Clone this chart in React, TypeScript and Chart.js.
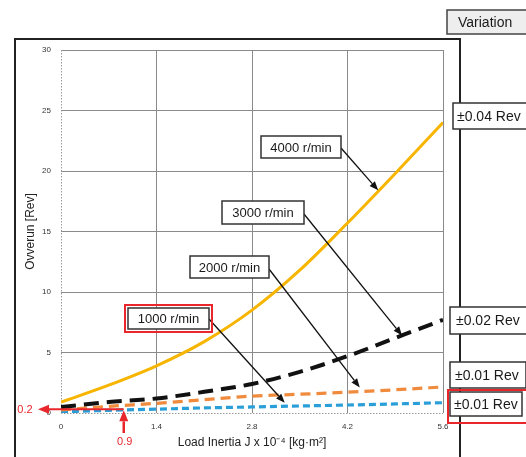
import React, { useEffect, useRef } from "react";
import { Chart, registerables } from "chart.js";

Chart.register(...registerables);

// ---------- data ----------
const xValues = [0, 0.7, 1.4, 2.1, 2.8, 3.5, 4.2, 4.9, 5.6];
const rpm4000 = [0.9, 2.3, 3.9, 5.9, 8.5, 11.8, 15.7, 19.8, 24.0];
const rpm3000 = [0.5, 0.9, 1.2, 1.75, 2.4, 3.4, 4.7, 6.2, 7.7];
const rpm2000 = [0.25, 0.55, 0.8, 1.1, 1.4, 1.55, 1.72, 1.92, 2.15];
const rpm1000 = [0.1, 0.22, 0.32, 0.42, 0.5, 0.58, 0.66, 0.75, 0.85];
const seriesNames = ["4000 r/min", "3000 r/min", "2000 r/min", "1000 r/min"];
const xTicks = [0, 1.4, 2.8, 4.2, 5.6];
const xTickLabels = ["0", "1.4", "2.8", "4.2", "5.6"];
const variations = ["±0.04 Rev", "±0.02 Rev", "±0.01 Rev", "±0.01 Rev"];
const markerX = 0.92;
const markerY = 0.3;
const markerXLabel = "0.9";
const markerYLabel = "0.2";
// arrow tips of the callouts, in data units
const calloutTips = [
  { x: 4.65, y: 18.4 },
  { x: 5.0, y: 6.4 },
  { x: 4.38, y: 2.1 },
  { x: 3.28, y: 0.85 },
];

const FONT = "'Liberation Sans', Arial, sans-serif";

function arrow(ctx: CanvasRenderingContext2D, x1: number, y1: number, x2: number, y2: number, color: string, lw: number, hl: number, hw: number) {
  const ang = Math.atan2(y2 - y1, x2 - x1);
  const bx = x2 - hl * Math.cos(ang);
  const by = y2 - hl * Math.sin(ang);
  ctx.save();
  ctx.strokeStyle = color;
  ctx.fillStyle = color;
  ctx.lineWidth = lw;
  ctx.setLineDash([]);
  ctx.beginPath();
  ctx.moveTo(x1, y1);
  ctx.lineTo(bx, by);
  ctx.stroke();
  ctx.beginPath();
  ctx.moveTo(x2, y2);
  ctx.lineTo(bx + (hw / 2) * Math.sin(ang), by - (hw / 2) * Math.cos(ang));
  ctx.lineTo(bx - (hw / 2) * Math.sin(ang), by + (hw / 2) * Math.cos(ang));
  ctx.closePath();
  ctx.fill();
  ctx.restore();
}

function box(ctx: CanvasRenderingContext2D, x: number, y: number, w: number, h: number, text: string, size: number, fill = "#fff", stroke = "#333", textX?: number) {
  ctx.save();
  ctx.fillStyle = fill;
  ctx.fillRect(x, y, w, h);
  ctx.strokeStyle = stroke;
  ctx.lineWidth = 1.5;
  ctx.strokeRect(x, y, w, h);
  ctx.fillStyle = "#1a1a1a";
  ctx.font = `${size}px ${FONT}`;
  ctx.textBaseline = "middle";
  if (textX !== undefined) {
    ctx.textAlign = "left";
    ctx.fillText(text, textX, y + h / 2 + 1);
  } else {
    ctx.textAlign = "center";
    ctx.fillText(text, x + w / 2, y + h / 2 + 1);
  }
  ctx.restore();
}

const decorPlugin = {
  id: "decor",
  beforeDraw(chart: any) {
    const ctx = chart.ctx as CanvasRenderingContext2D;
    ctx.save();
    ctx.fillStyle = "#fff";
    ctx.fillRect(0, 0, chart.width, chart.height);
    ctx.strokeStyle = "#222";
    ctx.lineWidth = 2;
    ctx.strokeRect(15, 39, 445, 440);
    ctx.restore();
  },
  beforeDatasetsDraw(chart: any) {
    const ctx = chart.ctx as CanvasRenderingContext2D;
    const a = chart.chartArea;
    ctx.save();
    ctx.strokeStyle = "#9a9a9a";
    ctx.lineWidth = 1;
    ctx.setLineDash([1.5, 1.5]);
    ctx.beginPath();
    ctx.moveTo(a.left + 0.5, a.top);
    ctx.lineTo(a.left + 0.5, a.bottom + 0.5);
    ctx.lineTo(a.right, a.bottom + 0.5);
    ctx.stroke();
    ctx.restore();
  },
  afterDraw(chart: any) {
    const ctx = chart.ctx as CanvasRenderingContext2D;
    const xs = chart.scales.x;
    const ys = chart.scales.y;

    // callouts
    const boxes = [
      { b: [261, 136, 80, 22], from: [341, 148] },
      { b: [222, 201, 82, 23], from: [304, 214] },
      { b: [190, 256, 79, 22], from: [269, 269] },
      { b: [128, 308, 81, 21], from: [209, 319] },
    ];
    boxes.forEach((c, i) => {
      const tip = calloutTips[i];
      arrow(ctx, c.from[0], c.from[1], xs.getPixelForValue(tip.x), ys.getPixelForValue(tip.y), "#111", 1.3, 9, 7);
    });
    boxes.forEach((c, i) => {
      box(ctx, c.b[0], c.b[1], c.b[2], c.b[3], seriesNames[i], 13);
    });
    // red frame around 1000 r/min
    ctx.save();
    ctx.strokeStyle = "#e8262c";
    ctx.lineWidth = 2;
    ctx.strokeRect(125, 305, 87, 27);
    ctx.restore();

    // red marker arrows
    const mx = xs.getPixelForValue(markerX);
    const my = ys.getPixelForValue(markerY);
    arrow(ctx, mx, my, 38, my, "#e8262c", 2, 11, 9);
    arrow(ctx, mx, 433, mx, my + 1, "#e8262c", 2.5, 11, 9);
    ctx.save();
    ctx.fillStyle = "#e8262c";
    ctx.font = `11px ${FONT}`;
    ctx.textAlign = "center";
    ctx.textBaseline = "middle";
    ctx.fillText(markerYLabel, 25, my + 1);
    ctx.fillText(markerXLabel, mx + 1, 442);
    ctx.restore();

    // right column
    ctx.save();
    ctx.strokeStyle = "#222";
    ctx.lineWidth = 2;
    ctx.beginPath();
    ctx.moveTo(460, 38);
    ctx.lineTo(460, 457);
    ctx.stroke();
    ctx.restore();
    box(ctx, 447, 10, 85, 24, "Variation", 14, "#eeeeee", "#444", 458);
    box(ctx, 453, 103, 80, 26, variations[0], 14, "#fff", "#333", 457);
    box(ctx, 450, 307, 82, 27, variations[1], 14, "#fff", "#333", 456);
    box(ctx, 450, 362, 76, 26, variations[2], 14, "#fff", "#333", 455);
    box(ctx, 450, 392, 72, 24, variations[3], 14, "#fff", "#333", 454);
    ctx.save();
    ctx.strokeStyle = "#e8262c";
    ctx.lineWidth = 2;
    ctx.strokeRect(448, 390, 80, 33);
    ctx.restore();
  },
};

export default function App() {
  const ref = useRef<HTMLCanvasElement>(null);
  useEffect(() => {
    if (!ref.current) return;
    const mk = (d: number[]) => xValues.map((x, i) => ({ x, y: d[i] }));
    const gridColor = (c: any) => (c.tick && c.tick.value === 0 ? "rgba(0,0,0,0)" : "#8a8a8a");
    const chart = new Chart(ref.current, {
      type: "line",
      data: {
        datasets: [
          { label: seriesNames[0], data: mk(rpm4000), borderColor: "#f7b500", borderWidth: 3, pointRadius: 0, cubicInterpolationMode: "monotone" },
          { label: seriesNames[1], data: mk(rpm3000), borderColor: "#111111", borderWidth: 4, borderDash: [15, 8], pointRadius: 0, cubicInterpolationMode: "monotone" },
          { label: seriesNames[2], data: mk(rpm2000), borderColor: "#f08a3c", borderWidth: 3.2, borderDash: [10, 6], pointRadius: 0, cubicInterpolationMode: "monotone" },
          { label: seriesNames[3], data: mk(rpm1000), borderColor: "#2a9ed8", borderWidth: 3.2, borderDash: [7, 4], pointRadius: 0, cubicInterpolationMode: "monotone" },
        ],
      } as any,
      options: {
        responsive: false,
        animation: false,
        layout: { padding: { left: 0, top: 50, right: 83, bottom: 0 } },
        plugins: { legend: { display: false }, tooltip: { enabled: false } },
        scales: {
          x: {
            type: "linear",
            min: 0,
            max: 5.6,
            afterBuildTicks: (s: any) => {
              s.ticks = xTicks.map((v) => ({ value: v }));
            },
            afterFit: (s: any) => {
              s.height = 44;
            },
            ticks: {
              autoSkip: false,
              maxRotation: 0,
              padding: 9,
              color: "#333",
              font: { family: FONT, size: 8 },
              callback: (v: any) => {
                const i = xTicks.indexOf(Number(v));
                return i >= 0 ? xTickLabels[i] : "";
              },
            },
            grid: { drawTicks: false, color: gridColor, lineWidth: 1 },
            border: { display: false },
            title: {
              display: true,
              text: "Load Inertia J x 10⁻⁴ [kg·m²]",
              color: "#222",
              font: { family: FONT, size: 12 },
              padding: { top: 0, bottom: 7 },
            },
          },
          y: {
            min: 0,
            max: 30,
            afterFit: (s: any) => {
              s.width = 61;
            },
            ticks: {
              stepSize: 5,
              padding: 10,
              color: "#333",
              font: { family: FONT, size: 8 },
            },
            grid: { drawTicks: false, color: gridColor, lineWidth: 1 },
            border: { display: false },
            title: {
              display: true,
              text: "Ovverun [Rev]",
              color: "#222",
              font: { family: FONT, size: 12 },
              padding: { top: 23, bottom: 0 },
            },
          },
        },
      } as any,
      plugins: [decorPlugin],
    });
    return () => chart.destroy();
  }, []);
  return (
    <div style={{ position: "fixed", left: 0, top: 0, width: 526, height: 457, background: "#fff" }}>
      <canvas ref={ref} width={526} height={457} style={{ display: "block" }} />
    </div>
  );
}
